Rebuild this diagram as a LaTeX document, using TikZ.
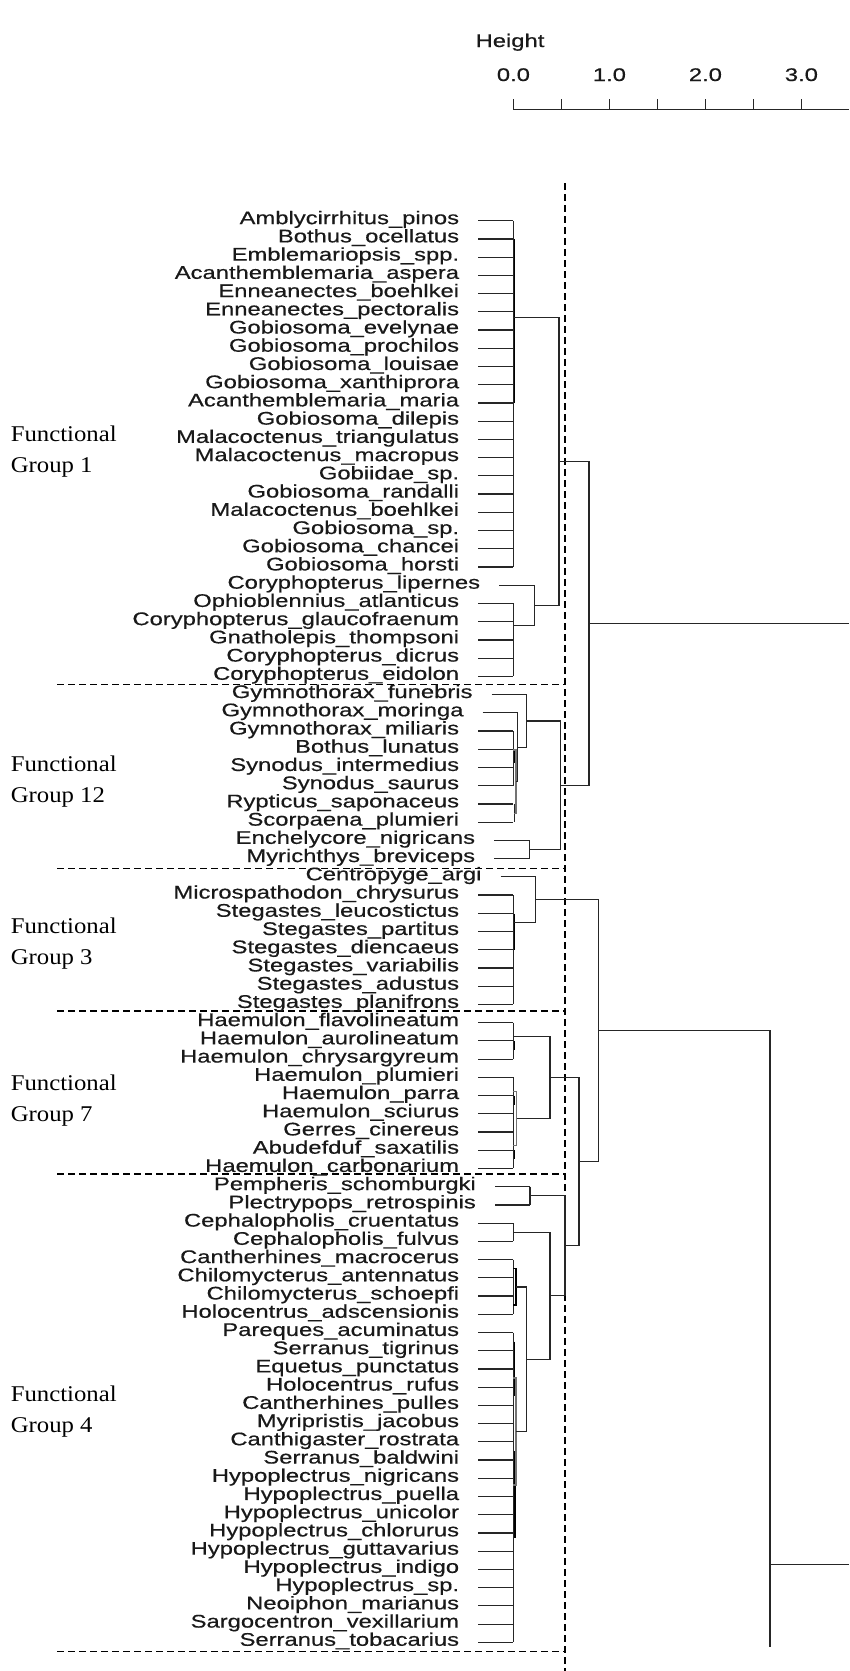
\documentclass[tikz,border=0pt]{standalone}
\usepackage{fontspec}
\newfontfamily\labfont[FakeStretch=1.3,FakeBold=0.5]{Liberation Sans}
\newfontfamily\grpfont[FakeStretch=1.1]{Liberation Serif}
\begin{document}
\begin{tikzpicture}[x=1pt,y=-1pt,
  tree/.style={line width=1.2pt, draw=black!85},
  bar/.style={line width=1.5pt, draw=black},
  faint/.style={line width=1.1pt, draw=black!55},
  cut/.style={line width=1.2pt, draw=black, dash pattern=on 6.5pt off 4.5pt},
  leaf/.style={anchor=mid east, inner sep=0pt, text=black!90, font=\labfont\fontsize{18.3}{20}\selectfont},
  axlab/.style={anchor=base, inner sep=0pt, text=black!90, font=\labfont\fontsize{18.3}{20}\selectfont},
  grp/.style={anchor=base west, inner sep=0pt, font=\grpfont\fontsize{22.5}{26}\selectfont}]
\useasboundingbox (0,0) rectangle (849,1671);

% ---- height axis ----
\node[axlab] (htitle) at (510,47) {Height};
\coordinate (ax0) at (513.4,109.7);
\coordinate (ax1) at (849,109.7);
\draw[tree] (ax0) -- (ax1);
\foreach \k in {0,...,6} {
  \coordinate (tk\k) at (513.4+48*\k,109.7);
  \draw[tree] (tk\k) -- ++(0,-10.6);
}
\foreach \j/\v in {0/0.0,1/1.0,2/2.0,3/3.0}
  \node[axlab] (tl\j) at (513.4+96*\j,81) {\v};

% ---- functional group labels ----
\node[grp] (f1a) at (10.6,441) {Functional};
\node[grp] (f1b) at (10.6,472) {Group 1};
\node[grp] (f2a) at (10.6,771) {Functional};
\node[grp] (f2b) at (10.6,802) {Group 12};
\node[grp] (f3a) at (10.6,933) {Functional};
\node[grp] (f3b) at (10.6,964) {Group 3};
\node[grp] (f4a) at (10.6,1090) {Functional};
\node[grp] (f4b) at (10.6,1121) {Group 7};
\node[grp] (f5a) at (10.6,1401) {Functional};
\node[grp] (f5b) at (10.6,1432) {Group 4};

% ---- cut lines between groups ----
\coordinate (cutT) at (565,183);
\coordinate (cutB) at (565,1671);
\draw[cut] (cutT) -- (cutB);
\foreach \n/\y in {1/684.7,2/868.3,3/1011,4/1174,5/1651.7} {
  \coordinate (cl\n) at (57,\y);
  \coordinate (cr\n) at (565,\y);
  \draw[cut] (cl\n) -- (cr\n);
}

% ---- leaves: index / start of leaf line / label ----
\foreach \i/\s/\t in {
 1/478.3/Amblycirrhitus\_pinos,
 2/478.3/Bothus\_ocellatus,
 3/478.3/Emblemariopsis\_spp.,
 4/478.3/Acanthemblemaria\_aspera,
 5/478.3/Enneanectes\_boehlkei,
 6/478.3/Enneanectes\_pectoralis,
 7/478.3/Gobiosoma\_evelynae,
 8/478.3/Gobiosoma\_prochilos,
 9/478.3/Gobiosoma\_louisae,
 10/478.3/Gobiosoma\_xanthiprora,
 11/478.3/Acanthemblemaria\_maria,
 12/478.3/Gobiosoma\_dilepis,
 13/478.3/Malacoctenus\_triangulatus,
 14/478.3/Malacoctenus\_macropus,
 15/478.3/Gobiidae\_sp.,
 16/478.3/Gobiosoma\_randalli,
 17/478.3/Malacoctenus\_boehlkei,
 18/478.3/Gobiosoma\_sp.,
 19/478.3/Gobiosoma\_chancei,
 20/478.3/Gobiosoma\_horsti,
 21/499.3/Coryphopterus\_lipernes,
 22/478.3/Ophioblennius\_atlanticus,
 23/478.3/Coryphopterus\_glaucofraenum,
 24/478.3/Gnatholepis\_thompsoni,
 25/478.3/Coryphopterus\_dicrus,
 26/478.3/Coryphopterus\_eidolon,
 27/491.7/Gymnothorax\_funebris,
 28/482.7/Gymnothorax\_moringa,
 29/478.3/Gymnothorax\_miliaris,
 30/478.3/Bothus\_lunatus,
 31/478.3/Synodus\_intermedius,
 32/478.3/Synodus\_saurus,
 33/478.3/Rypticus\_saponaceus,
 34/478.3/Scorpaena\_plumieri,
 35/494.3/Enchelycore\_nigricans,
 36/494.3/Myrichthys\_breviceps,
 37/500.7/Centropyge\_argi,
 38/478.3/Microspathodon\_chrysurus,
 39/478.3/Stegastes\_leucostictus,
 40/478.3/Stegastes\_partitus,
 41/478.3/Stegastes\_diencaeus,
 42/478.3/Stegastes\_variabilis,
 43/478.3/Stegastes\_adustus,
 44/478.3/Stegastes\_planifrons,
 45/478.3/Haemulon\_flavolineatum,
 46/478.3/Haemulon\_aurolineatum,
 47/478.3/Haemulon\_chrysargyreum,
 48/478.3/Haemulon\_plumieri,
 49/478.3/Haemulon\_parra,
 50/478.3/Haemulon\_sciurus,
 51/478.3/Gerres\_cinereus,
 52/478.3/Abudefduf\_saxatilis,
 53/478.3/Haemulon\_carbonarium,
 54/495/Pempheris\_schomburgki,
 55/495/Plectrypops\_retrospinis,
 56/478.3/Cephalopholis\_cruentatus,
 57/478.3/Cephalopholis\_fulvus,
 58/478.3/Cantherhines\_macrocerus,
 59/478.3/Chilomycterus\_antennatus,
 60/478.3/Chilomycterus\_schoepfi,
 61/478.3/Holocentrus\_adscensionis,
 62/478.3/Pareques\_acuminatus,
 63/478.3/Serranus\_tigrinus,
 64/478.3/Equetus\_punctatus,
 65/478.3/Holocentrus\_rufus,
 66/478.3/Cantherhines\_pulles,
 67/478.3/Myripristis\_jacobus,
 68/478.3/Canthigaster\_rostrata,
 69/478.3/Serranus\_baldwini,
 70/478.3/Hypoplectrus\_nigricans,
 71/478.3/Hypoplectrus\_puella,
 72/478.3/Hypoplectrus\_unicolor,
 73/478.3/Hypoplectrus\_chlorurus,
 74/478.3/Hypoplectrus\_guttavarius,
 75/478.3/Hypoplectrus\_indigo,
 76/478.3/Hypoplectrus\_sp.,
 77/478.3/Neoiphon\_marianus,
 78/478.3/Sargocentron\_vexillarium,
 79/478.3/Serranus\_tobacarius} {
  \pgfmathsetmacro\yy{220.7+(\i-1)*18.226}
  \node[leaf] (n\i) at (\s-19,\yy+1.3) {\t};
  \coordinate (l\i) at (\s,\yy);
  \coordinate (e\i) at (\s+35,\yy);
  \draw[tree] (l\i) -- (e\i);
}

% ---- group 1 ----
\draw[tree] (e1) -- (e20);
\draw[bar] ([xshift=1.2pt]e2) -- ([xshift=1.2pt]e11);
\coordinate (g1a) at (513.3,317.3);
\draw[tree] (e22) -- (e26);
\coordinate (g1b) at (513.3,625.7);
\coordinate (g1B) at (534.3,605.5);
\draw[tree] (e21) |- (g1b);
\coordinate (g1AB) at (559,461.4);
\draw[tree] (g1a) -| (g1AB) |- (g1B);

% ---- group 12 ----
\draw[tree] (e29) -- (e32);
\draw[bar] ([xshift=1.0pt]e30) -- ([xshift=1.0pt,yshift=-14pt]e30);
\draw[tree] ([xshift=0.8pt]e33) -- ([xshift=0.8pt]e34);
\coordinate (c12a) at (513.3,750);
\coordinate (c12b) at (514.1,813.1);
\coordinate (c12ab) at (516,781.5);
\draw[faint] (c12a) -| (c12ab) |- (c12b);
\coordinate (c12m) at (517.7,747.2);
\draw[tree] (e28) |- (c12ab);
\coordinate (c12f) at (526.7,720.9);
\draw[tree] (e27) |- (c12m);
\draw[tree] (e35) -- (e36);
\coordinate (c12e) at (529.3,849.5);
\coordinate (c12) at (560.7,785.2);
\draw[tree] (c12f) -| (c12) |- (c12e);

% ---- top join of groups 1 and 12 ----
\coordinate (top1) at (589,623.3);
\coordinate (r1) at (849,623.3);
\draw[tree] (g1AB) -| (top1) |- (c12);
\draw[tree] (top1) -- (r1);

% ---- group 3 ----
\draw[tree] (e38) -- (e44);
\draw[bar] ([xshift=1.2pt,yshift=-1pt]e39) -- ([xshift=1.2pt]e41);
\coordinate (g3a) at (513.3,922.3);
\coordinate (g3) at (535.7,899.6);
\draw[tree] (e37) |- (g3a);

% ---- group 7 ----
\draw[tree] (e45) -- (e47);
\draw[bar] ([xshift=1.2pt]e46) -- ([xshift=1.2pt,yshift=-9pt]e46);
\coordinate (g7a) at (513.3,1036.5);
\draw[tree] (e48) -- (e53);
\draw[bar] ([xshift=1.2pt]e49) -- ([xshift=1.2pt,yshift=-9pt]e49);
\draw[bar] ([xshift=1.2pt]e52) -- ([xshift=1.2pt,yshift=-9pt]e52);
\coordinate (g7b1) at (513.3,1091.2);
\coordinate (g7b2) at (513.3,1145.8);
\coordinate (g7b) at (516.7,1118.5);
\draw[faint] (g7b1) -| (g7b) |- (g7b2);
\coordinate (g7) at (550,1077.5);
\draw[tree] (g7a) -| (g7) |- (g7b);

% ---- group 4 ----
\draw[tree] (e54) -- (e55);
\coordinate (g4p) at (530,1195.8);
\draw[tree] (e56) -- (e57);
\coordinate (g4c) at (513.3,1232.3);
\draw[tree] (e58) -- (e61);
\coordinate (g4d1) at (513.3,1268.7);
\coordinate (g4d2) at (513.3,1305.2);
\coordinate (g4d) at (516,1287);
\draw[bar] (g4d1) -| (g4d) |- (g4d2);
\draw[tree] (e62) -- (e79);
\draw[bar] ([xshift=1.2pt,yshift=-9pt]e62) -- ([xshift=1.2pt,yshift=-9pt]e65);
\draw[bar] ([xshift=1.6pt,yshift=-9pt]e68) -- ([xshift=1.6pt,yshift=-5pt]e73);
\coordinate (g4e1) at (513.3,1378);
\coordinate (g4e2) at (513.3,1485);
\coordinate (g4e) at (516,1431.5);
\draw[faint] (g4e1) -| (g4e) |- (g4e2);
\coordinate (g4de) at (526.7,1359.3);
\draw[tree] (g4d) -| (g4de) |- (g4e);
\coordinate (g4cde) at (550,1295.8);
\draw[tree] (g4c) -| (g4cde) |- (g4de);
\coordinate (g4) at (565,1245.8);
\draw[tree] (g4p) -| (g4) |- (g4cde);

% ---- joins of groups 7, 4 and 3 ----
\coordinate (g74) at (579,1161.7);
\draw[tree] (g7) -| (g74) |- (g4);
\coordinate (g374) at (598.3,1030.7);
\draw[tree] (g3) -| (g374) |- (g74);
\coordinate (t2) at (770,1030.7);
\coordinate (t2end) at (770,1647);
\coordinate (r2a) at (770,1564.7);
\coordinate (r2) at (849,1564.7);
\draw[tree] (g374) -- (t2) -- (t2end);
\draw[tree] (r2a) -- (r2);
\end{tikzpicture}
\end{document}
